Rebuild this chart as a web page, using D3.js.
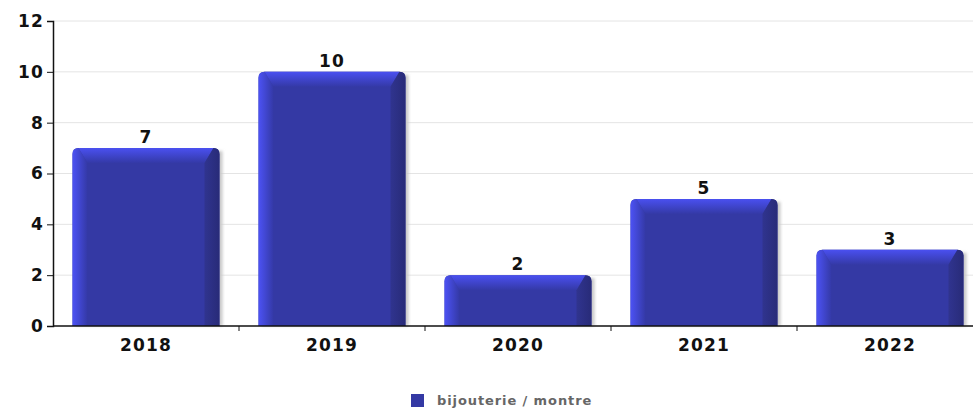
<!DOCTYPE html>
<html>
<head>
<meta charset="utf-8">
<script src="https://cdn.jsdelivr.net/npm/d3@7"></script>
<style>
  body { margin: 0; background: #fff; }
  text { font-family: "DejaVu Sans", sans-serif; font-weight: bold; }
</style>
</head>
<body>
<div id="chart"></div>
<script>
var years = ["2018", "2019", "2020", "2021", "2022"]
var values = [7, 10, 2, 5, 3]
var yTicks = [0, 2, 4, 6, 8, 10, 12]
var seriesName = "bijouterie / montre"

var W = 973, H = 409
var margin = { top: 21, right: -10, bottom: 83, left: 53 }
var w = W - margin.left - margin.right
var h = H - margin.top - margin.bottom

var svg = d3.select("#chart").append("svg")
    .attr("width", W)
    .attr("height", H)

var defs = svg.append("defs")
function grad(id, x2, y2, c1, c2) {
    var g = defs.append("linearGradient").attr("id", id)
        .attr("x1", 0).attr("y1", 0).attr("x2", x2).attr("y2", y2)
    g.append("stop").attr("offset", "0%").attr("stop-color", c1)
    g.append("stop").attr("offset", "100%").attr("stop-color", c2)
}
grad("gLeft", 1, 0, "#4c52f4", "#3439a6")
grad("gTop", 0, 1, "#4a50f0", "#3439a6")
grad("gRight", 1, 0, "#30348f", "#282b78")
var blur = defs.append("filter").attr("id", "shadow")
blur.append("feGaussianBlur").attr("stdDeviation", 1.5)

var g = svg.append("g")
    .attr("transform", "translate(" + margin.left + "," + margin.top + ")")

var x = d3.scaleBand().domain(years).range([0, w]).paddingInner(0.21).paddingOuter(0.105)
var y = d3.scaleLinear().domain([0, 12]).range([h, 0])

// grid
g.selectAll(".grid").data(yTicks.slice(1)).enter().append("line")
    .attr("x1", 0).attr("x2", w)
    .attr("y1", function(d) { return y(d) }).attr("y2", function(d) { return y(d) })
    .attr("stroke", "#e4e4e4").attr("stroke-width", 1)

// bars
var bw = x.bandwidth(), bv = 15
var bars = g.selectAll(".bar").data(values).enter().append("g")
    .attr("transform", function(d, i) { return "translate(" + x(years[i]) + "," + y(d) + ")" })

bars.append("rect")
    .attr("x", 3).attr("y", 3).attr("width", bw).attr("height", function(d) { return h - y(d) - 3 })
    .attr("fill", "#c8c8c8").attr("filter", "url(#shadow)")

bars.append("path")
    .attr("d", function(d) {
        var hh = h - y(d), r = 6
        return "M0," + hh + "V" + r + "Q0,0 " + r + ",0H" + (bw - r) + "Q" + bw + ",0 " + bw + "," + r + "V" + hh + "Z"
    })
    .attr("fill", "#3439a4")

bars.append("path")
    .attr("d", function(d) {
        var hh = h - y(d), r = 6
        return "M0," + hh + "V" + r + "Q0,0 " + r + ",0L" + bv + "," + bv + "V" + hh + "Z"
    })
    .attr("fill", "url(#gLeft)")

bars.append("path")
    .attr("d", function(d) {
        var r = 6
        return "M" + r + ",0H" + (bw - r) + "L" + (bw - bv) + "," + bv + "H" + bv + "Z"
    })
    .attr("fill", "url(#gTop)")

bars.append("path")
    .attr("d", function(d) {
        var hh = h - y(d), r = 6
        return "M" + bw + "," + hh + "V" + r + "Q" + bw + ",0 " + (bw - r) + ",0L" + (bw - bv) + "," + bv + "V" + hh + "Z"
    })
    .attr("fill", "url(#gRight)")

// value labels
g.selectAll(".val").data(values).enter().append("text")
    .attr("x", function(d, i) { return x(years[i]) + bw / 2 })
    .attr("y", function(d) { return y(d) - 5 })
    .attr("text-anchor", "middle")
    .attr("font-size", 17)
    .attr("letter-spacing", 1.2)
    .attr("fill", "#111")
    .text(function(d) { return d })

// y axis
var yax = g.append("g").call(d3.axisLeft(y).tickValues(yTicks).tickSize(6).tickPadding(3))
yax.select(".domain").attr("stroke", "#111").attr("stroke-width", 1.5)
yax.selectAll("line").attr("stroke", "#111")
yax.selectAll("text").attr("font-size", 17).attr("fill", "#111")
    .attr("letter-spacing", 1.2)
    .style("font-family", "DejaVu Sans").style("font-weight", "bold")

// x axis
var step = x.step()
var xax = g.append("g").attr("transform", "translate(0," + h + ")")
xax.append("line").attr("x1", 0).attr("x2", w).attr("stroke", "#111").attr("stroke-width", 1.5)
xax.selectAll(".tk").data(years.slice(1)).enter().append("line")
    .attr("x1", function(d) { return x(d) - step * 0.105 }).attr("x2", function(d) { return x(d) - step * 0.105 })
    .attr("y1", 0).attr("y2", 5).attr("stroke", "#111")
xax.selectAll(".lbl").data(years).enter().append("text")
    .attr("x", function(d) { return x(d) + bw / 2 })
    .attr("y", 25)
    .attr("text-anchor", "middle")
    .attr("font-size", 17)
    .attr("letter-spacing", 1.2)
    .attr("fill", "#111")
    .text(function(d) { return d })

// legend
var leg = svg.append("g").attr("transform", "translate(411,394)")
leg.append("rect").attr("width", 13).attr("height", 13).attr("fill", "#3439a4")
leg.append("text").attr("x", 26).attr("y", 11).attr("font-size", 13).attr("fill", "#666")
    .attr("letter-spacing", 0.9)
    .text(seriesName)
</script>
</body>
</html>
